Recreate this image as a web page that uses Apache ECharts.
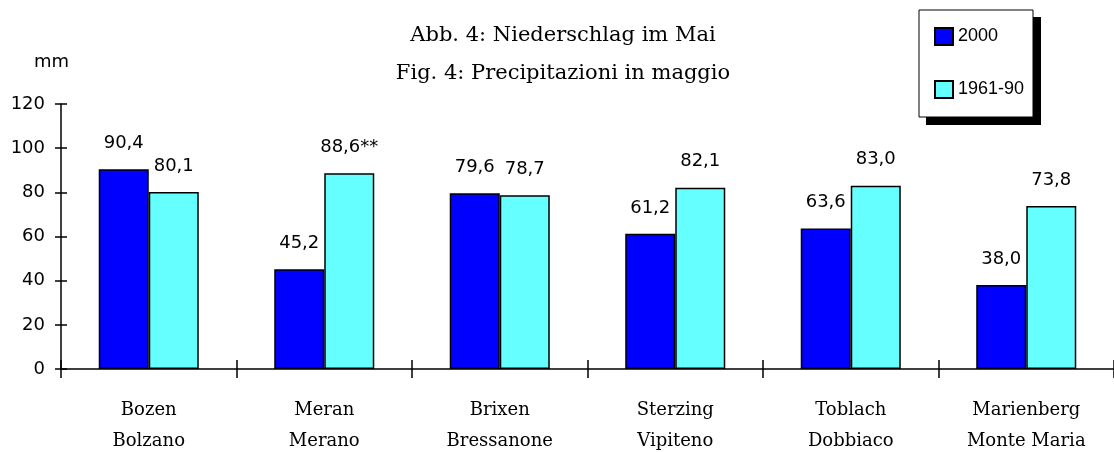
<!DOCTYPE html>
<html lang="de">
<head>
<meta charset="UTF-8">
<title>Niederschlag im Mai</title>
<script src="https://cdn.jsdelivr.net/npm/echarts@6/dist/echarts.min.js"></script>
<style>
  html, body { margin: 0; padding: 0; background: #fff; }
  #chart { width: 1114px; height: 452px; }
</style>
</head>
<body>
<div id="chart"></div>
<script type="text/javascript">
    // Stationen (deutsch / italienisch)
    var stations = ['Bozen\nBolzano', 'Meran\nMerano', 'Brixen\nBressanone', 'Sterzing\nVipiteno', 'Toblach\nDobbiaco', 'Marienberg\nMonte Maria'];
    var values2000 = [90.4, 45.2, 79.6, 61.2, 63.6, 38.0];
    var values6190 = [80.1, 88.6, 78.7, 82.1, 83.0, 73.8];
    var notes6190 = ['', '**', '', '', '', ''];   // Fussnoten-Zeichen an den Werten
    var yTicks = [0, 20, 40, 60, 80, 100, 120];

    var numFont = 'DejaVu Sans';
    var serifFont = 'DejaVu Serif';

    function fmt(v) {
        return v.toFixed(1).replace('.', ',');
    }

    var myChart = echarts.init(document.getElementById('chart'));

    var yBase = {
        type: 'value',
        min: yTicks[0],
        max: yTicks[yTicks.length - 1],
        interval: yTicks[1] - yTicks[0],
        splitLine: { show: false }
    };

    myChart.setOption({
        animation: false,
        title: {
            text: 'Abb. 4: Niederschlag im Mai\nFig. 4: Precipitazioni in maggio',
            left: 563,
            top: 17,
            padding: 0,
            textAlign: 'center',
            textStyle: {
                fontFamily: serifFont,
                fontWeight: 'normal',
                fontSize: 21,
                lineHeight: 38,
                color: '#000'
            }
        },
        graphic: [
            // Legendenrahmen mit Schatten
            { type: 'rect', shape: { x: 926, y: 17, width: 115, height: 108 }, style: { fill: '#000' }, z: 1 },
            { type: 'rect', shape: { x: 919, y: 10, width: 114, height: 107 }, style: { fill: '#fff', stroke: '#000', lineWidth: 1 }, z: 2 }
        ],
        legend: {
            orient: 'vertical',
            left: 934,
            top: 27,
            padding: 0,
            itemWidth: 18,
            itemHeight: 17,
            itemGap: 34,
            z: 10,
            icon: 'rect',
            textStyle: { fontFamily: 'Liberation Sans', fontSize: 18, color: '#000' },
            data: ['2000', '1961-90']
        },
        grid: {
            left: 61,
            top: 104,
            width: 1053,
            height: 265,
            outerBoundsMode: 'none',
            containLabel: false
        },
        xAxis: [{
            type: 'category',
            data: stations,
            position: 'bottom',
            axisLine: { lineStyle: { color: '#000', width: 1.5 } },
            axisTick: { show: true, length: 9, lineStyle: { color: '#000', width: 1.5 } },
            axisLabel: {
                margin: 26,
                color: '#000',
                fontFamily: serifFont,
                fontSize: 18,
                lineHeight: 31,
                interval: 0
            }
        }, {
            type: 'category',
            data: stations,
            position: 'bottom',
            axisLine: { show: false },
            axisTick: { show: true, inside: true, length: 9, lineStyle: { color: '#000', width: 1.5 } },
            axisLabel: { show: false }
        }],
        yAxis: [Object.assign({}, yBase, {
            name: 'mm',
            nameLocation: 'end',
            nameGap: 33,
            nameTextStyle: { fontFamily: numFont, fontSize: 18, color: '#000', align: 'right', padding: [0, -8, 0, 0] },
            axisLine: { show: true, lineStyle: { color: '#000', width: 1.5 } },
            axisTick: { show: true, length: 6, lineStyle: { color: '#000', width: 1.5 } },
            axisLabel: { margin: 16, color: '#000', fontFamily: numFont, fontSize: 18 }
        }), Object.assign({}, yBase, {
            position: 'left',
            axisLine: { show: false },
            axisTick: { show: true, inside: true, length: 6, lineStyle: { color: '#000', width: 1.5 } },
            axisLabel: { show: false }
        })],
        series: [{
            name: '2000',
            type: 'bar',
            data: values2000,
            barGap: '0%',
            barCategoryGap: '43%',
            itemStyle: { color: '#0000ff', borderColor: '#000', borderWidth: 1.5 },
            label: {
                show: true,
                position: 'top',
                distance: 17,
                color: '#000',
                fontFamily: numFont,
                fontSize: 18,
                formatter: function (p) { return fmt(p.value); }
            }
        }, {
            name: '1961-90',
            type: 'bar',
            data: values6190,
            barGap: '0%',
            barCategoryGap: '43%',
            itemStyle: { color: '#66ffff', borderColor: '#000', borderWidth: 1.5 },
            label: {
                show: true,
                position: 'top',
                distance: 17,
                color: '#000',
                fontFamily: numFont,
                fontSize: 18,
                formatter: function (p) { return fmt(p.value) + notes6190[p.dataIndex]; }
            }
        }]
    });
</script>
</body>
</html>
